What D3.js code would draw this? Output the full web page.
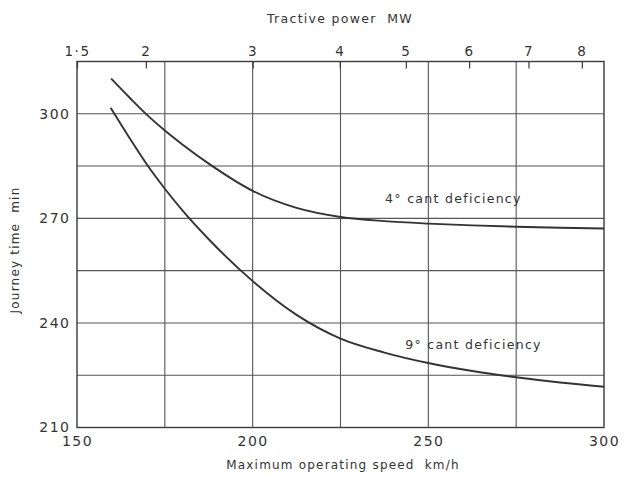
<!DOCTYPE html>
<html>
<head>
<meta charset="utf-8">
<script src="https://cdn.jsdelivr.net/npm/d3@7"></script>
<style>
  html, body { margin: 0; padding: 0; background: #fff; }
  svg { display: block; }
  text { font-family: "DejaVu Sans", sans-serif; fill: #333; white-space: pre; }
</style>
</head>
<body>
<svg id="chart" width="624" height="477"></svg>
<script>
// ---- data ----
const speedTicks = [150, 200, 250, 300];
const speedGrid = [175, 200, 225, 250, 275];
const timeTicks = [210, 240, 270, 300];
const timeGrid = [225, 240, 255, 270, 285, 300];
const powerTicks = [1.5, 2, 3, 4, 5, 6, 7, 8];
const powerTickLabels = ["1·5", "2", "3", "4", "5", "6", "7", "8"];
const powerTickSpeeds = [150, 169.6, 200, 224.8, 243.6, 261.6, 278.5, 293.7];

const speed4 = [159.7, 165, 170, 175, 180, 187.5, 200, 212.5, 225, 237.5, 250, 262.5, 275, 287.5, 300];
const time4 = [310.1, 304.6, 299.6, 295.2, 291.2, 285.7, 277.9, 273.0, 270.4, 269.2, 268.5, 268.0, 267.6, 267.3, 267.1];
const speed9 = [159.6, 165, 170, 175, 180, 187.5, 200, 212.5, 225, 237.5, 250, 262.5, 275, 287.5, 300];
const time9 = [301.7, 293.0, 285.3, 278.5, 272.3, 264.0, 252.0, 242.3, 235.5, 231.5, 228.5, 226.2, 224.4, 222.9, 221.7];

const seriesNames = ["4° cant deficiency", "9° cant deficiency"];

// ---- layout ----
const svg = d3.select("#chart");
const x = d3.scaleLinear().domain([150, 300]).range([77, 604]);
const y = d3.scaleLinear().domain([210, 315]).range([427.5, 61.5]);
const power = d3.scaleLinear().domain(powerTicks).range(powerTickSpeeds.map(s => x(s)));

const ink = "#3a3a3a";

// gridlines
svg.append("g").selectAll("line").data(speedGrid).join("line")
  .attr("x1", d => x(d)).attr("x2", d => x(d))
  .attr("y1", y(315)).attr("y2", y(210))
  .attr("stroke", "#555").attr("stroke-width", 1.1);
svg.append("g").selectAll("line").data(timeGrid).join("line")
  .attr("x1", x(150)).attr("x2", x(300))
  .attr("y1", d => y(d)).attr("y2", d => y(d))
  .attr("stroke", "#555").attr("stroke-width", 1.1);

// frame
svg.append("rect")
  .attr("x", x(150)).attr("y", y(315))
  .attr("width", x(300) - x(150)).attr("height", y(210) - y(315))
  .attr("fill", "none").attr("stroke", ink).attr("stroke-width", 1.4);

// axes
const tickFont = "14px";
const gx = svg.append("g").attr("transform", `translate(0,${y(210)})`)
  .call(d3.axisBottom(x).tickValues(speedTicks).tickSize(0).tickPadding(9));
const gy = svg.append("g").attr("transform", `translate(${x(150)},0)`)
  .call(d3.axisLeft(y).tickValues(timeTicks).tickSize(0).tickPadding(5));
const gt = svg.append("g").attr("transform", `translate(0,${y(315)})`)
  .call(d3.axisTop(power).tickValues(powerTicks)
    .tickFormat((d, i) => powerTickLabels[i])
    .tickSizeInner(-7).tickSizeOuter(0).tickPadding(6));

[gx, gy, gt].forEach(g => {
  g.select(".domain").remove();
  g.selectAll("text").attr("font-size", tickFont).attr("fill", "#333")
    .style("letter-spacing", "1.5px").attr("font-family", "DejaVu Sans");
  g.selectAll("line").attr("stroke", ink).attr("stroke-width", 1.2);
});
gt.selectAll("text").attr("font-size", "13.5px");
gy.selectAll("text").attr("dx", "-1.5px");

// curves
const line = d3.line().x(d => x(d[0])).y(d => y(d[1])).curve(d3.curveMonotoneX);
const data4 = speed4.map((s, i) => [s, time4[i]]);
const data9 = speed9.map((s, i) => [s, time9[i]]);
svg.append("path").datum(data4).attr("d", line)
  .attr("fill", "none").attr("stroke", "#333").attr("stroke-width", 1.9);
svg.append("path").datum(data9).attr("d", line)
  .attr("fill", "none").attr("stroke", "#333").attr("stroke-width", 1.9);

// curve labels
svg.append("text").attr("x", x(237.7)).attr("y", y(274.4))
  .attr("font-size", "12.5px").style("letter-spacing", "1.3px").text(seriesNames[0]);
svg.append("text").attr("x", x(243.4)).attr("y", y(232.5))
  .attr("font-size", "12.5px").style("letter-spacing", "1.3px").text(seriesNames[1]);

// axis titles
svg.append("text").attr("x", 340).attr("y", 23).attr("text-anchor", "middle")
  .attr("font-size", "12.5px").style("letter-spacing", "1.3px").text("Tractive power  MW");
svg.append("text").attr("x", 343).attr("y", 469).attr("text-anchor", "middle")
  .attr("font-size", "12px").style("letter-spacing", "1.2px").text("Maximum operating speed  km/h");
svg.append("text").attr("transform", "translate(19,250) rotate(-90)").attr("text-anchor", "middle")
  .attr("font-size", "12px").style("letter-spacing", "1.2px").text("Journey time  min");
</script>
</body>
</html>
